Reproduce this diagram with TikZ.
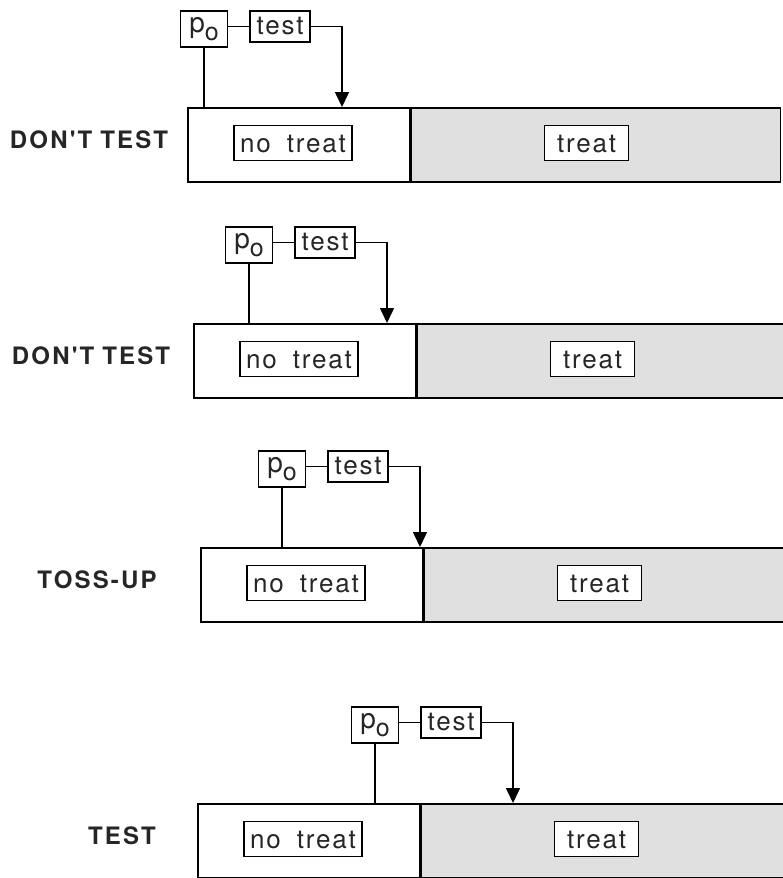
\documentclass[tikz,border=0pt]{standalone}
\usepackage{fontspec}
\usepackage{tikz}
\usetikzlibrary{positioning, arrows.meta}
\newfontfamily\labfont[LetterSpace=9]{TeX Gyre Heros}
\newfontfamily\tagfont[LetterSpace=7]{TeX Gyre Heros}

\tikzset{
  region/.style={draw, line width=1.6pt, minimum height=74pt, inner sep=0pt, anchor=north west},
  tag/.style={draw, line width=1.6pt, fill=white, inner sep=0pt, minimum height=35pt,
    text height=18pt, text depth=0pt, text=black!85, font=\tagfont\fontsize{26}{26}\selectfont},
  probe/.style={draw, line width=1.6pt, inner sep=0pt, minimum width=47pt, minimum height=36pt,
    anchor=north, text=black!85, font=\tagfont\fontsize{28}{28}\selectfont},
  rowlabel/.style={text=black!85, font=\labfont\bfseries\fontsize{24}{24}\selectfont},
}

\begin{document}
\begin{tikzpicture}[x=1pt, y=-1pt, >={Triangle[length=15pt, width=14pt]}]
    \useasboundingbox (0,0) rectangle (783,878);
    \clip (0,0) rectangle (783,878);

    \foreach \lab/\lx/\top/\L/\P [count=\i] in {{DON'T\hspace{8pt}TEST}/89/107/187/202, {DON'T\hspace{8pt}TEST}/91/323/193/247,
        {TOSS-UP}/97/547/200/280, {TEST}/122/803/197/373} {
        % the bar
        \node[region, minimum width=222pt] (lo\i) at (\L,\top) {};
        \node[region, minimum width=369pt, fill=black!12] (hi\i) at (lo\i.north east) {};
        \node[tag, minimum width=118pt, xshift=106pt, yshift=-36pt] (nt\i) at (lo\i.north west) {no\hspace{16pt}treat};
        \node[tag, minimum width=84pt, xshift=176pt, yshift=-36pt] (tr\i) at (hi\i.north west) {treat};
        \node[rowlabel] (lab\i) at (\lx,\top+33) {\lab};

        % p0 and the test threshold
        \node[probe] (p\i) at (\P+2,\top-97) {p\raisebox{-8pt}{\fontsize{25}{25}\selectfont o}};
        \node[tag, minimum width=60pt, minimum height=31pt, text height=17pt, anchor=north west, xshift=21pt] (ts\i) at (p\i.north east) {test};
        \coordinate (th\i) at (\P+140,\top);

        \draw[line width=1.6pt] (p\i.south) -- (p\i.south |- lo\i.north);
        \draw[line width=1.6pt] (ts\i.west -| p\i.east) -- (ts\i.west);
        \draw[->, line width=1.6pt] (ts\i.east) -| (th\i);
    }
\end{tikzpicture}
\end{document}
